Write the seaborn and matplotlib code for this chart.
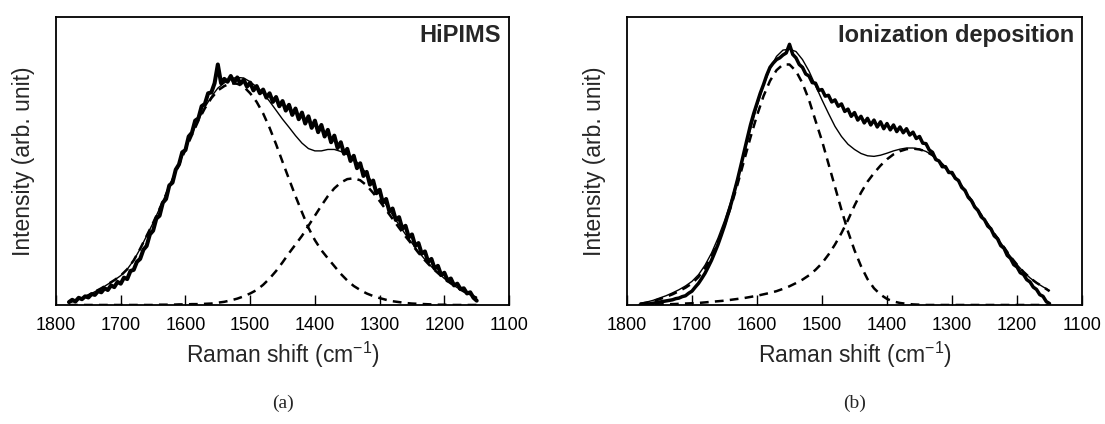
import numpy as np
import pandas as pd
import matplotlib
matplotlib.use("Agg")
import matplotlib.pyplot as plt
import seaborn as sns

# ---------------- data ----------------
# measured spectra, 5 cm-1 grid from 1780 down to 1150
raman_fine = np.arange(1780, 1145, -5)
# calculated curves, 10 cm-1 grid from 1780 down to 1150
raman_coarse = np.arange(1780, 1145, -10)

meas_a = [0.010, 0.018, 0.012, 0.025, 0.020, 0.030, 0.026, 0.038, 0.035, 0.048,
          0.044, 0.058, 0.052, 0.068, 0.062, 0.080, 0.074, 0.095, 0.090, 0.118,
          0.122, 0.150, 0.160, 0.192, 0.205, 0.245, 0.258, 0.300, 0.310, 0.355,
          0.368, 0.415, 0.425, 0.470, 0.488, 0.530, 0.538, 0.585, 0.598, 0.640,
          0.648, 0.690, 0.698, 0.735, 0.738, 0.770, 0.835, 0.770, 0.785, 0.775,
          0.795, 0.772, 0.790, 0.768, 0.782, 0.758, 0.772, 0.745, 0.760, 0.735,
          0.748, 0.720, 0.735, 0.705, 0.722, 0.690, 0.708, 0.675, 0.695, 0.660,
          0.682, 0.645, 0.668, 0.630, 0.655, 0.615, 0.640, 0.600, 0.625, 0.585,
          0.608, 0.565, 0.588, 0.545, 0.565, 0.525, 0.542, 0.500, 0.518, 0.475,
          0.492, 0.448, 0.462, 0.418, 0.432, 0.388, 0.400, 0.355, 0.368, 0.325,
          0.335, 0.295, 0.305, 0.265, 0.275, 0.235, 0.245, 0.205, 0.215, 0.178,
          0.186, 0.150, 0.160, 0.126, 0.136, 0.104, 0.112, 0.085, 0.092, 0.068,
          0.074, 0.055, 0.058, 0.040, 0.044, 0.025, 0.015]

fit_a = [0.010, 0.016, 0.024, 0.034, 0.046, 0.058, 0.072, 0.086, 0.102, 0.124,
         0.155, 0.195, 0.240, 0.285, 0.335, 0.385, 0.437, 0.490, 0.542, 0.594,
         0.643, 0.687, 0.723, 0.753, 0.771, 0.786, 0.790, 0.788, 0.775, 0.757,
         0.735, 0.707, 0.676, 0.645, 0.617, 0.588, 0.562, 0.543, 0.535, 0.535,
         0.540, 0.540, 0.533, 0.522, 0.506, 0.485, 0.455, 0.420, 0.385, 0.348,
         0.312, 0.278, 0.245, 0.215, 0.185, 0.158, 0.133, 0.112, 0.092, 0.075,
         0.060, 0.047, 0.035, 0.025]

g_band_a = [0.010, 0.016, 0.024, 0.034, 0.046, 0.058, 0.072, 0.086, 0.102, 0.124,
            0.155, 0.195, 0.240, 0.285, 0.334, 0.384, 0.435, 0.488, 0.539, 0.590,
            0.640, 0.683, 0.718, 0.745, 0.760, 0.770, 0.768, 0.758, 0.735, 0.705,
            0.665, 0.615, 0.558, 0.497, 0.437, 0.378, 0.322, 0.268, 0.225, 0.190,
            0.162, 0.135, 0.108, 0.085, 0.066, 0.052, 0.040, 0.031, 0.024, 0.018,
            0.013, 0.010, 0.007, 0.005, 0.004, 0.003, 0.002, 0.001, 0.001, 0.000,
            0.000, 0.000, 0.000, 0.000]

d_band_a = [0.000, 0.000, 0.000, 0.000, 0.000, 0.000, 0.000, 0.000, 0.000, 0.000,
            0.000, 0.000, 0.000, 0.000, 0.001, 0.001, 0.001, 0.002, 0.002, 0.003,
            0.003, 0.004, 0.005, 0.008, 0.011, 0.016, 0.022, 0.030, 0.040, 0.052,
            0.070, 0.092, 0.118, 0.148, 0.180, 0.210, 0.240, 0.275, 0.310, 0.345,
            0.378, 0.405, 0.425, 0.437, 0.440, 0.433, 0.415, 0.389, 0.361, 0.330,
            0.299, 0.268, 0.238, 0.210, 0.181, 0.155, 0.131, 0.111, 0.091, 0.075,
            0.060, 0.047, 0.035, 0.025]

meas_b = [0.000, 0.002, 0.003, 0.004, 0.006, 0.008, 0.010, 0.012, 0.014, 0.016,
          0.018, 0.022, 0.024, 0.029, 0.032, 0.041, 0.048, 0.062, 0.075, 0.092,
          0.110, 0.132, 0.155, 0.182, 0.210, 0.242, 0.275, 0.312, 0.350, 0.392,
          0.435, 0.482, 0.530, 0.578, 0.625, 0.665, 0.700, 0.735, 0.765, 0.798,
          0.825, 0.840, 0.852, 0.858, 0.868, 0.875, 0.905, 0.870, 0.858, 0.835,
          0.825, 0.802, 0.795, 0.772, 0.770, 0.745, 0.748, 0.725, 0.728, 0.705,
          0.712, 0.690, 0.698, 0.672, 0.680, 0.655, 0.668, 0.642, 0.655, 0.632,
          0.648, 0.625, 0.642, 0.618, 0.636, 0.612, 0.630, 0.608, 0.625, 0.602,
          0.618, 0.598, 0.612, 0.590, 0.600, 0.578, 0.585, 0.562, 0.560, 0.538,
          0.530, 0.505, 0.500, 0.480, 0.480, 0.460, 0.460, 0.440, 0.432, 0.408,
          0.398, 0.374, 0.362, 0.340, 0.328, 0.306, 0.296, 0.274, 0.264, 0.240,
          0.230, 0.206, 0.197, 0.172, 0.162, 0.140, 0.132, 0.112, 0.106, 0.088,
          0.080, 0.062, 0.054, 0.036, 0.030, 0.012, 0.005]

fit_b = [0.006, 0.010, 0.016, 0.024, 0.032, 0.042, 0.053, 0.066, 0.082, 0.105,
         0.138, 0.180, 0.232, 0.292, 0.360, 0.439, 0.524, 0.610, 0.690, 0.762,
         0.820, 0.863, 0.885, 0.888, 0.880, 0.852, 0.812, 0.762, 0.712, 0.665,
         0.620, 0.585, 0.558, 0.540, 0.526, 0.518, 0.516, 0.520, 0.527, 0.535,
         0.541, 0.545, 0.545, 0.541, 0.533, 0.520, 0.500, 0.477, 0.455, 0.428,
         0.396, 0.362, 0.328, 0.296, 0.264, 0.232, 0.200, 0.168, 0.140, 0.115,
         0.094, 0.077, 0.063, 0.050]

g_band_b = [0.004, 0.008, 0.013, 0.020, 0.028, 0.037, 0.048, 0.060, 0.075, 0.097,
            0.128, 0.168, 0.218, 0.276, 0.342, 0.418, 0.500, 0.582, 0.658, 0.725,
            0.778, 0.815, 0.835, 0.835, 0.812, 0.770, 0.712, 0.640, 0.570, 0.490,
            0.410, 0.330, 0.255, 0.190, 0.135, 0.090, 0.058, 0.036, 0.021, 0.012,
            0.007, 0.004, 0.002, 0.001, 0.000, 0.000, 0.000, 0.000, 0.000, 0.000,
            0.000, 0.000, 0.000, 0.000, 0.000, 0.000, 0.000, 0.000, 0.000, 0.000,
            0.000, 0.000, 0.000, 0.000]

d_band_b = [0.001, 0.001, 0.002, 0.002, 0.003, 0.003, 0.004, 0.005, 0.006, 0.007,
            0.009, 0.011, 0.013, 0.015, 0.018, 0.021, 0.024, 0.028, 0.032, 0.037,
            0.042, 0.048, 0.056, 0.065, 0.076, 0.088, 0.103, 0.122, 0.145, 0.175,
            0.210, 0.250, 0.295, 0.345, 0.390, 0.428, 0.458, 0.484, 0.506, 0.523,
            0.534, 0.541, 0.543, 0.540, 0.533, 0.520, 0.500, 0.477, 0.455, 0.428,
            0.396, 0.362, 0.328, 0.296, 0.264, 0.232, 0.200, 0.168, 0.140, 0.115,
            0.094, 0.077, 0.063, 0.048]

panel_titles = ["HiPIMS", "Ionization deposition"]
panel_tags = ["(a)", "(b)"]
x_ticks = [1800, 1700, 1600, 1500, 1400, 1300, 1200, 1100]

# ---------------- style ----------------
sns.set_style("ticks")
plt.rcParams['font.family'] = ['Liberation Sans', 'DejaVu Sans']
plt.rcParams['mathtext.fontset'] = 'custom'
plt.rcParams['mathtext.rm'] = 'Liberation Sans'
plt.rcParams['mathtext.default'] = 'rm'

fig = plt.figure(figsize=(11.05, 4.24), dpi=100)
ax_a = fig.add_axes([0.0507, 0.2807, 0.4100, 0.6793])
ax_b = fig.add_axes([0.5674, 0.2807, 0.4118, 0.6793])

panels = [
    (ax_a, meas_a, fit_a, g_band_a, d_band_a, 2.9),
    (ax_b, meas_b, fit_b, g_band_b, d_band_b, 2.5),
]

for i, (ax, meas, fit, gb, db, mlw) in enumerate(panels):
    sns.lineplot(x=raman_fine, y=meas, ax=ax, color="black", lw=mlw,
                 sort=False, estimator=None)
    sns.lineplot(x=raman_coarse, y=fit, ax=ax, color="black", lw=1.0,
                 sort=False, estimator=None)
    sns.lineplot(x=raman_coarse, y=gb, ax=ax, color="black", lw=1.8,
                 sort=False, estimator=None, dashes=False,
                 linestyle=(0, (3.5, 2.5)))
    sns.lineplot(x=raman_coarse, y=db, ax=ax, color="black", lw=1.8,
                 sort=False, estimator=None, dashes=False,
                 linestyle=(0, (3.5, 2.5)))
    ax.set_xlim(1800, 1100)
    ax.set_ylim(0, 1.0)
    ax.set_xticks(x_ticks)
    ax.set_yticks([])
    ax.tick_params(axis='x', direction='in', length=7.5, width=1.0,
                   labelsize=13, pad=9, colors='black')
    for sp in ax.spines.values():
        sp.set_visible(True)
        sp.set_linewidth(1.3)
        sp.set_color('black')
    ax.set_xlabel("Raman shift (cm$^{-1}$)", fontsize=16.5, labelpad=4)
    ax.set_ylabel("Intensity (arb. unit)", fontsize=16.5, labelpad=15)
    ax.text(0.982, 0.935, panel_titles[i], transform=ax.transAxes,
            ha='right', va='center', fontsize=17, fontweight='bold')
    ax.text(0.5, -0.34, panel_tags[i], transform=ax.transAxes,
            ha='center', va='center', fontsize=14, family='Liberation Serif')

fig.savefig("out.png", dpi=100)
